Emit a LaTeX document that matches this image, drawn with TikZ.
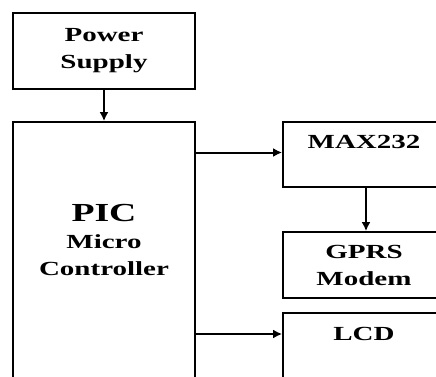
\documentclass[tikz,border=0pt]{standalone}
\usepackage{fontspec}
\usepackage{tikz}
\usetikzlibrary{arrows.meta}
\newfontfamily\blockfont[FakeStretch=1.45]{Liberation Serif}
\tikzstyle{block}=[rectangle, draw, line width=1.8pt, inner sep=0pt]
\tikzstyle{labelsty}=[font=\blockfont\bfseries\fontsize{20}{27}\selectfont, align=center, inner sep=0pt]
\tikzstyle{conn}=[line width=2pt]
\tikzstyle{dconn}=[conn,-{Latex[length=9pt,width=9pt]}]

\begin{document}
\begin{tikzpicture}[x=1pt,y=-1pt]
					\clip (0,0) rectangle (436,377);

					\node[block,labelsty,minimum width=182pt,minimum height=76pt] (ps) at (104,51) {Power\\Supply};
					\node[block,minimum width=182pt,minimum height=290pt] (pic) at (104,267) {};
					\node[labelsty] (pictext) at (104,240) {{\fontsize{26}{27}\selectfont PIC}\\Micro\\Controller};

					\node[block,minimum width=162pt,minimum height=65pt] (max) at (364,154.5) {};
					\node[labelsty] (maxtext) at (364,142) {MAX232};
					\node[block,labelsty,minimum width=162pt,minimum height=66pt] (gprs) at (364,265) {GPRS\\Modem};
					\node[block,minimum width=162pt,minimum height=100pt] (lcd) at (364,363) {};
					\node[labelsty] (lcdtext) at (364,334) {LCD};

					\draw[dconn] ([yshift=0.5pt]ps.south) -- (pic);
					\draw[dconn] ([yshift=2pt]pic.east |- max.west) -- ([yshift=2pt]max.west);
					\draw[dconn] ([xshift=2pt]max.south) -- ([xshift=2pt]gprs.north);
					\draw[dconn] (pic.east |- lcdtext) -- (lcd.west |- lcdtext);

				\end{tikzpicture}
\end{document}
